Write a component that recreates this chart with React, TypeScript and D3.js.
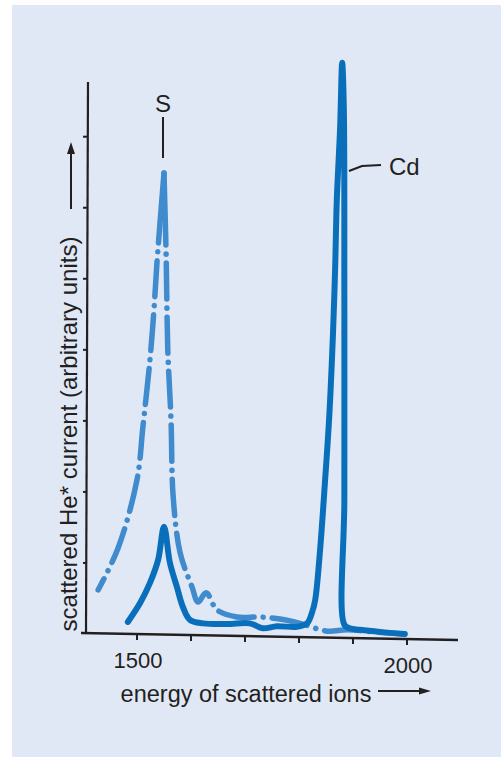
import React from "react";
import * as d3 from "d3";

// energy (eV) vs scattered current (arbitrary units)
const solidE = [1483, 1506, 1524, 1539, 1550, 1561, 1574, 1585, 1598, 1622, 1667, 1709, 1733, 1759, 1796, 1815, 1824, 1830, 1839, 1848, 1856, 1863, 1867, 1870, 1876, 1880, 1883, 1884, 1884, 1884, 1894, 1913, 1950, 1996];
const solidV = [0.17, 0.44, 0.72, 1.04, 1.51, 1.0, 0.66, 0.38, 0.2, 0.15, 0.14, 0.15, 0.08, 0.11, 0.1, 0.15, 0.3, 0.48, 1.18, 2.13, 3.06, 4.24, 5.17, 6.11, 7.1, 8.04, 7.4, 4.7, 1.89, 0.13, 0.08, 0.06, 0.03, 0.0];

const dashE = [1428, 1465, 1500, 1511, 1524, 1531, 1537, 1550, 1554, 1557, 1563, 1567, 1580, 1602, 1613, 1628, 1648, 1685, 1728, 1765, 1802, 1852, 1889, 1937, 1993];
const dashV = [0.62, 1.21, 2.17, 2.92, 3.86, 4.52, 5.23, 6.49, 5.31, 4.0, 3.01, 1.93, 1.14, 0.66, 0.45, 0.58, 0.34, 0.24, 0.24, 0.21, 0.15, 0.04, 0.06, 0.03, 0.0];
const dashPeak = 7; // index of the S maximum in the dash-dot series

const xTicks = [1500, 1600, 1700, 1800, 1900, 2000];
const xTickLabels = ["1500", "2000"];
const yTicks = [1, 2, 3, 4, 5, 6, 7];

const W = 501;
const H = 757;
const font = "'Liberation Sans', Arial, Helvetica, sans-serif";
const solidColor = "#0a6fbb";
const dashColor = "#3f8bcd";
const ink = "#231f20";

const x = d3.scaleLinear().domain([1500, 2000]).range([137, 407]);
const y = d3.scaleLinear().domain([0, 7.77]).range([634, 82]);

// the hand-drawn x axis runs slightly downhill
const axisY = (px: number) => 633 + (px - 83) * 0.0187;

const line = d3
  .line<[number, number]>()
  .x((d) => x(d[0]))
  .y((d) => y(d[1]))
  .curve(d3.curveCatmullRom.alpha(0.5));

// long stroke over the peak, then regular dash-dot
const dashArray = (first: number) => {
  const parts = [first];
  for (let i = 0; i < 20; i++) parts.push(9, 0.1, 9, 36);
  return parts.join(" ");
};

export default function App() {
  const solid = solidE.map((e, i) => [e, solidV[i]] as [number, number]);
  const dashed = dashE.map((e, i) => [e, dashV[i]] as [number, number]);
  const leftSide = dashed.slice(0, dashPeak + 1).reverse();
  const rightSide = dashed.slice(dashPeak);
  const x0 = x(1400) - 2;
  const x1 = 458;
  const yAxisX = 87;

  return (
    <svg
      width={W}
      height={H}
      style={{ position: "absolute", left: 0, top: 0, background: "#fff" }}
      fontFamily={font}
    >
      <rect x={12} y={5} width={W - 12} height={H - 5} fill="#e0e8f5" />

      {/* curves */}
      <path
        d={line(leftSide) || ""}
        fill="none"
        stroke={dashColor}
        strokeWidth={5.5}
        strokeLinecap="round"
        strokeDasharray={dashArray(70)}
      />
      <path
        d={line(rightSide) || ""}
        fill="none"
        stroke={dashColor}
        strokeWidth={5.5}
        strokeLinecap="round"
        strokeDasharray={dashArray(72)}
      />
      <path
        d={line(solid) || ""}
        fill="none"
        stroke={solidColor}
        strokeWidth={6}
        strokeLinecap="round"
        strokeLinejoin="round"
      />

      {/* y axis */}
      <line x1={yAxisX + 1} y1={y.range()[1]} x2={yAxisX - 1} y2={y(0)} stroke={ink} strokeWidth={2.2} />
      {yTicks.map((t) => (
        <line key={t} x1={yAxisX - 4} x2={yAxisX} y1={y(t)} y2={y(t)} stroke={ink} strokeWidth={2} />
      ))}

      {/* x axis */}
      <line x1={x0} y1={axisY(x0)} x2={x1} y2={axisY(x1)} stroke={ink} strokeWidth={2.5} />
      {xTicks.map((t) => (
        <line key={t} x1={x(t)} x2={x(t)} y1={axisY(x(t))} y2={axisY(x(t)) + 6} stroke={ink} strokeWidth={2} />
      ))}
      {xTickLabels.map((l) => (
        <text
          key={l}
          x={x(+l) + 1}
          y={axisY(x(+l)) + 34}
          textAnchor="middle"
          fontSize={22}
          fill={ink}
        >
          {l}
        </text>
      ))}

      {/* axis titles */}
      <text x={246} y={702} textAnchor="middle" fontSize={23.5} fill={ink}>
        energy of scattered ions
      </text>
      <line x1={378} x2={423} y1={691} y2={691} stroke={ink} strokeWidth={2} />
      <path d="M419,687.5 L431,691 L419,694.5 Z" fill={ink} />

      <text
        transform="translate(77,434) rotate(-90)"
        textAnchor="middle"
        fontSize={24}
        fill={ink}
      >
        scattered He* current (arbitrary units)
      </text>
      <line x1={71} x2={71} y1={209} y2={152} stroke={ink} strokeWidth={2} />
      <path d="M67,154 L71,142 L75,154 Z" fill={ink} />

      {/* peak labels */}
      <text x={163} y={112} textAnchor="middle" fontSize={24} fill={ink}>
        S
      </text>
      <line x1={163} x2={163} y1={117} y2={158} stroke={ink} strokeWidth={2} />

      <text x={389} y={175} fontSize={24} fill={ink}>
        Cd
      </text>
      <path d="M349,171 L362,166 L381,165" fill="none" stroke={ink} strokeWidth={2.2} />
    </svg>
  );
}
